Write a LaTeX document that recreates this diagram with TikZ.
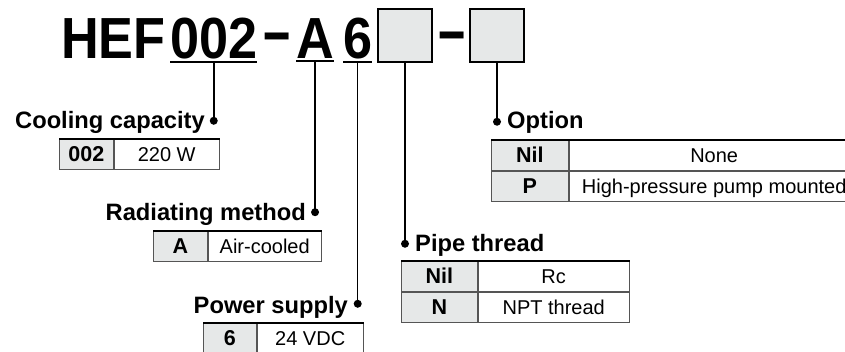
\documentclass[tikz,border=0pt]{standalone}
\usepackage{fontspec}
\setmainfont{Liberation Sans}
\newfontfamily\titlefont{Liberation Sans}[FakeStretch=0.9]
\usepackage{xcolor}
\usetikzlibrary{calc}
\usetikzlibrary{positioning}
\definecolor{cellfill}{HTML}{E6E8E8}
\definecolor{cellline}{HTML}{555555}
\newcommand{\coderow}[6]{%
    \node [codecell, minimum width=#3] (#1c) at (#2) {#5};
    \node [desccell, minimum width=#4] (#1d) at (#1c.north east) {#6};%
}
\newcommand{\longdash}{\scalebox{1.8}[1]{-}}
\tikzset{
    title/.style={font=\titlefont\bfseries\fontsize{58}{60}\selectfont, inner sep=0pt, anchor=base west},
    heading/.style={font=\bfseries\fontsize{23.7}{28}\selectfont, inner sep=0pt},
    codecell/.style={draw=cellline, line width=0.8pt, fill=cellfill, anchor=north west, inner sep=0pt,
        minimum height=30pt, text height=16pt, text depth=1pt, font=\bfseries\fontsize{21.5}{24}\selectfont},
    desccell/.style={codecell, fill=white, font=\fontsize{20}{22}\selectfont},
    toprule/.style={line width=1.8pt},
    codebox/.style={draw, line width=1.5pt, fill=cellfill, minimum width=54pt, minimum height=53pt, inner sep=0pt},
    link/.style={line width=1.5pt},
    uline/.style={line width=2pt},
    dot/.style={circle, fill, inner sep=0pt, minimum size=8pt}
}

\begin{document}
\begin{tikzpicture}[x=1pt, y=-1pt]
    \useasboundingbox (0,0) rectangle (845,351);

    % model number
    \node [title] (hef) at (61,58) {HEF};
    \node [title] (cap) at (170,58) {002};
    \node [title] (dasha) at (261,51) {\longdash};
    \node [title] (rad) at (296,58) {A};
    \node [title] (pow) at (343,58) {6};
    \node [codebox] (pipebox) at (405,35.5) {};
    \node [title] (dashb) at (436,50) {\longdash};
    \node [codebox] (optbox) at (497,35.5) {};

    \draw [uline] ([yshift=-3pt]cap.south west) -- ([yshift=-3pt]cap.south east);
    \draw [uline] ([yshift=-3pt]rad.south west) -- ([yshift=-3pt]rad.south east);
    \draw [uline] ([yshift=-3pt]pow.south west) -- ([yshift=-3pt]pow.south east);

    %%%%%%

    \node [dot] (capdot) at ($ (cap.south) + (0,62) $) {};
    \draw [link] ([yshift=-3pt]cap.south) -- (capdot.center);
    \node [heading, anchor=base east] (caplbl) at (205,128) {Cooling capacity};
    \coderow{capa}{59,139}{54pt}{105pt}{002}{220 W}
    \draw [toprule] (capac.north west) -- (capad.north east);

    %%%%%%

    \node [dot] (raddot) at ($ (rad.south) + (0,154) $) {};
    \draw [link] ([yshift=-3pt]rad.south) -- (raddot.center);
    \node [heading, anchor=base east] (radlbl) at (306,220) {Radiating method};
    \coderow{rada}{153,231}{54pt}{113pt}{A}{Air-cooled}
    \draw [toprule] (radac.north west) -- (radad.north east);

    %%%%%%

    \node [dot] (powdot) at ($ (pow.south) + (0,245) $) {};
    \draw [link] ([yshift=-3pt]pow.south) -- (powdot.center);
    \node [heading, anchor=base east] (powlbl) at (348,313) {Power supply};
    \coderow{powa}{203,323}{53pt}{106pt}{6}{24 VDC}
    \draw [toprule] (powac.north west) -- (powad.north east);

    %%%%%%

    \node [dot] (pipedot) at ($ (pipebox.south) + (0,181) $) {};
    \draw [link] (pipebox.south) -- (pipedot.center);
    \node [heading, anchor=base west] (pipelbl) at (415,251) {Pipe thread};
    \coderow{pipea}{401,261}{76pt}{151pt}{Nil}{Rc}
    \coderow{pipeb}{pipeac.south west}{76pt}{151pt}{N}{NPT thread}
    \draw [toprule] (pipeac.north west) -- (pipead.north east);

    %%%%%%

    \node [dot] (optdot) at ($ (optbox.south) + (0,59) $) {};
    \draw [link] (optbox.south) -- (optdot.center);
    \node [heading, anchor=base west] (optlbl) at (507,128) {Option};
    \coderow{opta}{491,140}{77pt}{290pt}{Nil}{None}
    \coderow{optb}{optac.south west}{77pt}{290pt}{P}{High-pressure pump mounted}
    \draw [toprule] (optac.north west) -- (optad.north east);
\end{tikzpicture}
\end{document}
